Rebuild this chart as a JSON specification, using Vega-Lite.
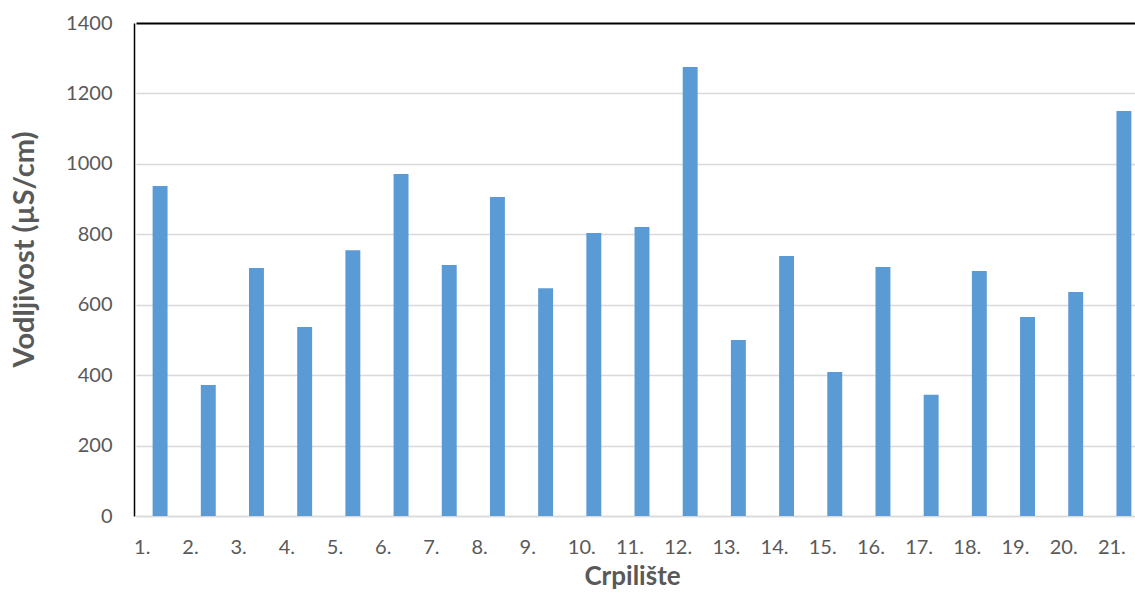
{
  "$schema": "https://vega.github.io/schema/vega-lite/v6.json",
  "autosize": "none",
  "width": 1001,
  "height": 493,
  "padding": {"left": 134, "top": 23, "right": 0, "bottom": 79},
  "background": "white",
  "config": {
    "view": {"stroke": null},
    "font": "Lato",
    "axis": {"labelFont": "Lato", "titleFont": "Lato"}
  },
  "data": {
    "values": [
      {"c": "1.", "v": 937},
      {"c": "2.", "v": 372},
      {"c": "3.", "v": 704},
      {"c": "4.", "v": 537},
      {"c": "5.", "v": 755},
      {"c": "6.", "v": 971},
      {"c": "7.", "v": 713},
      {"c": "8.", "v": 906},
      {"c": "9.", "v": 647},
      {"c": "10.", "v": 804},
      {"c": "11.", "v": 821},
      {"c": "12.", "v": 1275},
      {"c": "13.", "v": 500},
      {"c": "14.", "v": 738},
      {"c": "15.", "v": 409},
      {"c": "16.", "v": 707},
      {"c": "17.", "v": 344},
      {"c": "18.", "v": 696},
      {"c": "19.", "v": 565},
      {"c": "20.", "v": 636},
      {"c": "21.", "v": 1150}
    ]
  },
  "mark": {"type": "bar", "color": "#5b9bd5"},
  "encoding": {
    "x": {
      "field": "c",
      "type": "ordinal",
      "sort": null,
      "scale": {"range": [2, 1014], "paddingInner": 0.69, "paddingOuter": 0.345},
      "axis": {
        "title": "Crpilište",
        "titleFontSize": 26,
        "titleFontWeight": "bold",
        "titleColor": "#595959",
        "titlePadding": 6,
        "titleX": 498,
        "labelAngle": 0,
        "labelAlign": "left",
        "labelBaseline": "top",
        "labelOffset": -26,
        "labelPadding": 21,
        "labelFontSize": 20,
        "labelColor": "#595959",
        "labelOverlap": false,
        "ticks": false,
        "tickSize": 0,
        "domainColor": "#d9d9d9",
        "domainWidth": 1.5,
        "grid": false
      }
    },
    "y": {
      "field": "v",
      "type": "quantitative",
      "scale": {"domain": [0, 1400], "nice": false},
      "axis": {
        "title": "Vodljivost (µS/cm)",
        "titleFontSize": 29,
        "titleFontWeight": "bold",
        "titleColor": "#595959",
        "titlePadding": 26,
        "titleY": 226,
        "values": [0, 200, 400, 600, 800, 1000, 1200, 1400],
        "format": "d",
        "labelFontSize": 20,
        "labelColor": "#595959",
        "labelPadding": 22,
        "ticks": false,
        "tickSize": 0,
        "domainColor": "black",
        "domainWidth": 1.5,
        "grid": true,
        "gridColor": {"condition": {"test": "datum.value === 1400", "value": "black"}, "value": "#d9d9d9"},
        "gridWidth": {"condition": {"test": "datum.value === 1400", "value": 2}, "value": 1.5}
      }
    }
  }
}
